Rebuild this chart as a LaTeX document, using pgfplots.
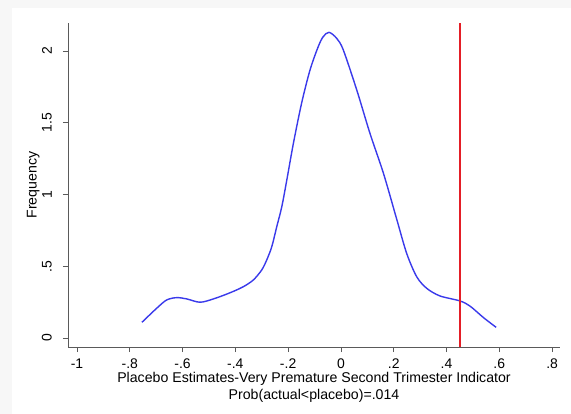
\documentclass[border=0pt]{standalone}
\usepackage{pgfplots}
\pgfplotsset{compat=1.18}
\usepackage{fontspec}
\setmainfont{Liberation Sans}
\definecolor{kdens}{RGB}{58,58,235}
\definecolor{actual}{RGB}{228,30,38}
\definecolor{axisgray}{RGB}{90,90,90}
\begin{document}
\begin{tikzpicture}
  % graph region
  \useasboundingbox (0bp,0bp) rectangle (571bp,414bp);
  \fill[black!3] (0bp,0bp) rectangle (571bp,414bp);
  \fill[white] (12bp,0bp) rectangle (571bp,406bp);
  \begin{axis}[
    at={(68bp,67bp)}, anchor=south west,
    scale only axis, width=492bp, height=324bp,
    xmin=-1.034, xmax=0.830, ymin=-0.063, ymax=2.195,
    axis lines=left, axis line style={-, axisgray, line width=0.8bp},
    xtick={-1,-0.8,-0.6,-0.4,-0.2,0,0.2,0.4,0.6,0.8},
    xticklabels={-1,-.8,-.6,-.4,-.2,0,.2,.4,.6,.8},
    ytick={0,0.5,1,1.5,2},
    yticklabels={0,.5,1,1.5,2},
    tick align=outside, major tick length=5bp,
    tick style={axisgray, line width=0.8bp},
    tick label style={font=\fontsize{14}{16}\selectfont},
    /pgf/number format/assume math mode=true,
    yticklabel style={rotate=90, anchor=south, inner sep=1bp, yshift=10bp},
    xticklabel style={inner sep=1bp, yshift=-6bp},
    label style={font=\fontsize{14.2}{17}\selectfont},
    xlabel={Placebo Estimates-Very Premature Second Trimester Indicator\\Prob(actual<placebo)=.014},
    xlabel style={align=center, at={(axis description cs:0.5,0)}, anchor=north, yshift=-22bp},
    ylabel={Frequency},
    ylabel style={at={(axis description cs:0,0.5)}, anchor=south, yshift=25bp},
    clip=false,
  ]
    % kernel density of placebo estimates
    \addplot[kdens, line width=1.4bp, smooth, tension=0.5] coordinates {
      (-0.754,0.109) (-0.698,0.207) (-0.660,0.265) (-0.622,0.281)
      (-0.584,0.272) (-0.534,0.249) (-0.483,0.272) (-0.420,0.315)
      (-0.370,0.357) (-0.332,0.404) (-0.300,0.474) (-0.281,0.544)
      (-0.262,0.636) (-0.243,0.776) (-0.224,0.915) (-0.205,1.101)
      (-0.180,1.357) (-0.149,1.636) (-0.117,1.868) (-0.086,2.030)
      (-0.067,2.100) (-0.045,2.130) (-0.016,2.088) (0.009,2.007)
      (0.060,1.728) (0.110,1.426) (0.161,1.148) (0.211,0.830)
      (0.249,0.590) (0.287,0.427) (0.325,0.346) (0.375,0.293)
      (0.451,0.258) (0.489,0.222) (0.540,0.142) (0.588,0.074)
    };
    % actual estimate
    \addplot[actual, line width=1.6bp] coordinates {(0.452,-0.063) (0.452,2.195)};
  \end{axis}
\end{tikzpicture}
\end{document}
